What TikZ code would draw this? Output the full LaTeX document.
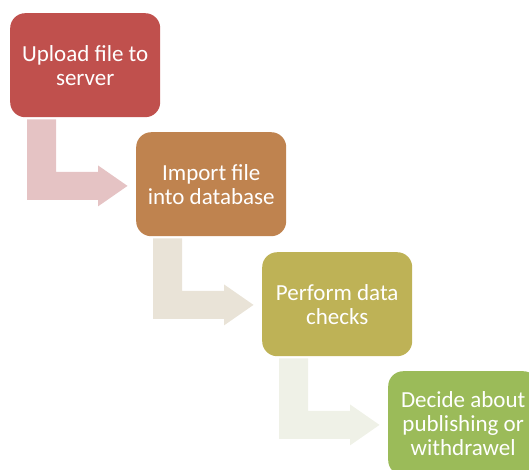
\documentclass[tikz,border=0pt]{standalone}
\usepackage{fontspec}
\setmainfont{Carlito}
\definecolor{cA}{RGB}{192,80,77}
\definecolor{cB}{RGB}{191,131,79}
\definecolor{cC}{RGB}{190,178,86}
\definecolor{cD}{RGB}{155,187,89}
\definecolor{aA}{RGB}{229,195,196}
\definecolor{aB}{RGB}{233,227,215}
\definecolor{aC}{RGB}{239,241,231}
\newcommand\bentarr[2]{%
  \fill[#2, shift={(#1.south west)}] (17,2) -- (46,2) -- (46,54.5) -- (88,54.5) -- (88,48) -- (117.5,68.5) -- (88,89) -- (88,82.5) -- (17,82.5) -- cycle;}
\begin{document}
\begin{tikzpicture}[x=1pt,y=-1pt,
  stepbox/.style={rounded corners=15pt, minimum width=150pt, minimum height=104pt,
    text=white, align=center, font=\fontsize{23}{24}\selectfont, inner sep=0pt,
    anchor=north west}]
\useasboundingbox (0,0) rectangle (529,469);
\clip (0,0) rectangle (529,469);
\node[stepbox, fill=cA] (s1) at (10,13) {Upload file to\\server};
\node[stepbox, fill=cB] (s2) at (136,132) {Import file\\into database};
\node[stepbox, fill=cC] (s3) at (262,252) {Perform data\\checks};
\node[stepbox, fill=cD] (s4) at (388,371) {Decide about\\publishing or\\withdrawel};
\bentarr{s1}{aA}
\bentarr{s2}{aB}
\bentarr{s3}{aC}
\end{tikzpicture}
\end{document}
